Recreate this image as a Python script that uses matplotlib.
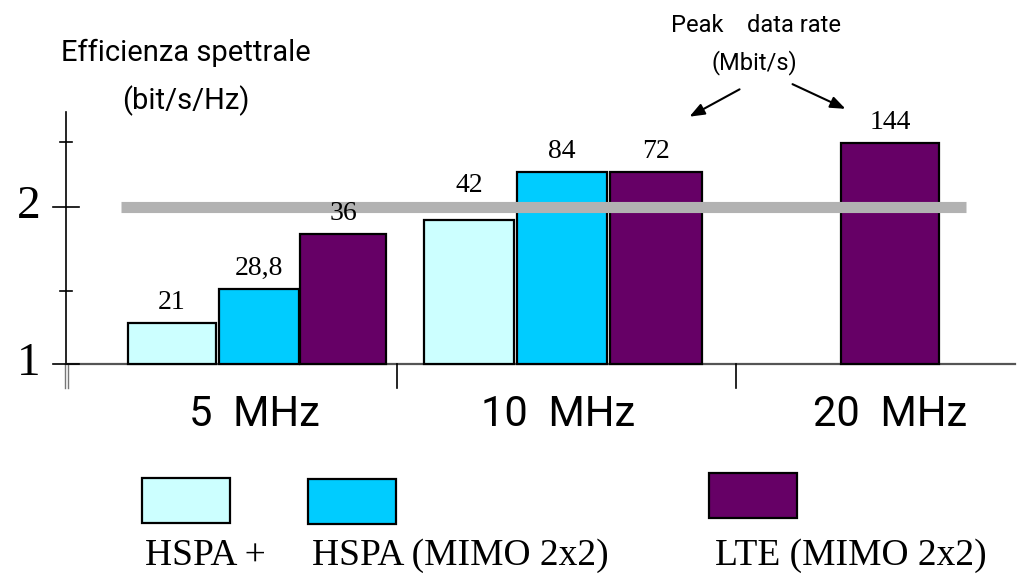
"""Spectral efficiency / peak data rate chart: HSPA+, HSPA MIMO, LTE."""
import matplotlib
matplotlib.use("Agg")
import matplotlib.pyplot as plt
from matplotlib.patches import Rectangle

# data
bands = ["5  MHz", "10  MHz", "20  MHz"]
series = ["HSPA +", "HSPA (MIMO 2x2)", "LTE (MIMO 2x2)"]
colors = ["#CCFFFF", "#00CCFF", "#660066"]
# spectral efficiency (bit/s/Hz), None = not shown
efficiency = {
    "HSPA +": [1.26, 1.92, None],
    "HSPA (MIMO 2x2)": [1.48, 2.22, None],
    "LTE (MIMO 2x2)": [1.83, 2.22, 2.41],
}
# peak data rate labels (Mbit/s)
peak_rate = {
    "HSPA +": ["21", "42", None],
    "HSPA (MIMO 2x2)": ["28,8", "84", None],
    "LTE (MIMO 2x2)": ["36", "72", "144"],
}
reference_level = 2

# layout (pixels, figure is 1023x579)
W, H = 1023, 579
bar_left = {
    "HSPA +": [128, 424, None],
    "HSPA (MIMO 2x2)": [219, 517, None],
    "LTE (MIMO 2x2)": [300, 610, 841],
}
bar_width = {
    "HSPA +": [88, 90, None],
    "HSPA (MIMO 2x2)": [80, 90, None],
    "LTE (MIMO 2x2)": [86, 92, 98],
}
band_x = [254, 558, 890]
label_gap = {"42": 22}

SANS = ["Roboto", "DejaVu Sans"]
SERIF = ["Liberation Serif", "DejaVu Serif"]

# value 1 sits at pixel row 364, value 2 at row 207
PX_PER_UNIT = 157.0
Y0_PIX = 364


def val(p):
    return 1 + (Y0_PIX - p) / PX_PER_UNIT


def F(x, y):
    # pixel (from top-left) -> figure fraction
    return x / W, 1 - y / H


fig = plt.figure(figsize=(W / 100, H / 100), dpi=100)
ax = fig.add_axes([0, 0, 1, 1])
ax.set_xlim(0, W)
ax.set_ylim(val(H), val(0))
ax.axis("off")

# bars
for s, c in zip(series, colors):
    for i in range(len(bands)):
        v = efficiency[s][i]
        if v is None:
            continue
        x0 = bar_left[s][i]
        w = bar_width[s][i]
        ax.bar(x0, v - 1, width=w, bottom=1, align="edge", color=c,
               edgecolor="black", linewidth=1.6, zorder=3)
        lab = peak_rate[s][i]
        gap = label_gap.get(lab, 8)
        ax.annotate(lab, (x0 + w / 2, v), xytext=(0, gap * 0.72),
                    textcoords="offset points", ha="center", va="bottom",
                    fontsize=20, family=SERIF, zorder=5)

# 2 bit/s/Hz reference band
ax.plot([121, 966], [reference_level, reference_level], color="#B2B2B2",
        linewidth=8, solid_capstyle="butt", zorder=4)

# axes drawn by hand
ax.plot([66, 66], [val(112), 1], color="black", linewidth=1.2, zorder=2)
ax.plot([64.5, 64.5], [1, val(388)], color="#777777", linewidth=1.0)
ax.plot([67.5, 67.5], [1, val(388)], color="#777777", linewidth=1.0)
ax.plot([66, 1015], [1, 1], color="#555555", linewidth=1.6, zorder=2)
for t in [val(142), val(291)]:
    ax.plot([60, 72], [t, t], color="black", linewidth=1.2)
for t in [2, 1]:
    ax.plot([53, 79], [t, t], color="black", linewidth=1.2)
for x in [397, 736]:
    ax.plot([x, x], [1, val(388)], color="black", linewidth=1.2)

ax.text(29, 2, "2", ha="center", va="center", fontsize=34, family=SERIF)
ax.text(29, 1, "1", ha="center", va="center", fontsize=34, family=SERIF)

for x, b in zip(band_x, bands):
    ax.text(x, val(415), b, ha="center", va="center", fontsize=30, family=SANS)

# titles
fig.text(*F(186, 53), "Efficienza spettrale", ha="center", va="center",
         fontsize=21, family=SANS)
fig.text(*F(186, 101), "(bit/s/Hz)", ha="center", va="center",
         fontsize=21, family=SANS)
fig.text(*F(756, 25), "Peak    data rate", ha="center", va="center",
         fontsize=17, family=SANS)
fig.text(*F(754, 63), "(Mbit/s)", ha="center", va="center",
         fontsize=17, family=SANS)

arrow = dict(arrowstyle="-|>,head_length=0.9,head_width=0.35",
             color="black", linewidth=1.5)
ax.annotate("", xy=(687, val(118)), xytext=(742, val(88)), arrowprops=arrow)
ax.annotate("", xy=(848, val(110)), xytext=(790, val(83)), arrowprops=arrow)

# legend
legend_box = [(142, 478), (308, 479), (709, 473)]
legend_text_x = [145, 312, 715]
for (lx, ly), tx, s, c in zip(legend_box, legend_text_x, series, colors):
    fx, fy = F(lx, ly + 45)
    fig.patches.append(Rectangle((fx, fy), 88 / W, 45 / H, transform=fig.transFigure,
                                 facecolor=c, edgecolor="black", linewidth=1.6))
    fig.text(*F(tx, 556), s, ha="left", va="center", fontsize=27, family=SERIF)

fig.savefig("out.png", dpi=100)
